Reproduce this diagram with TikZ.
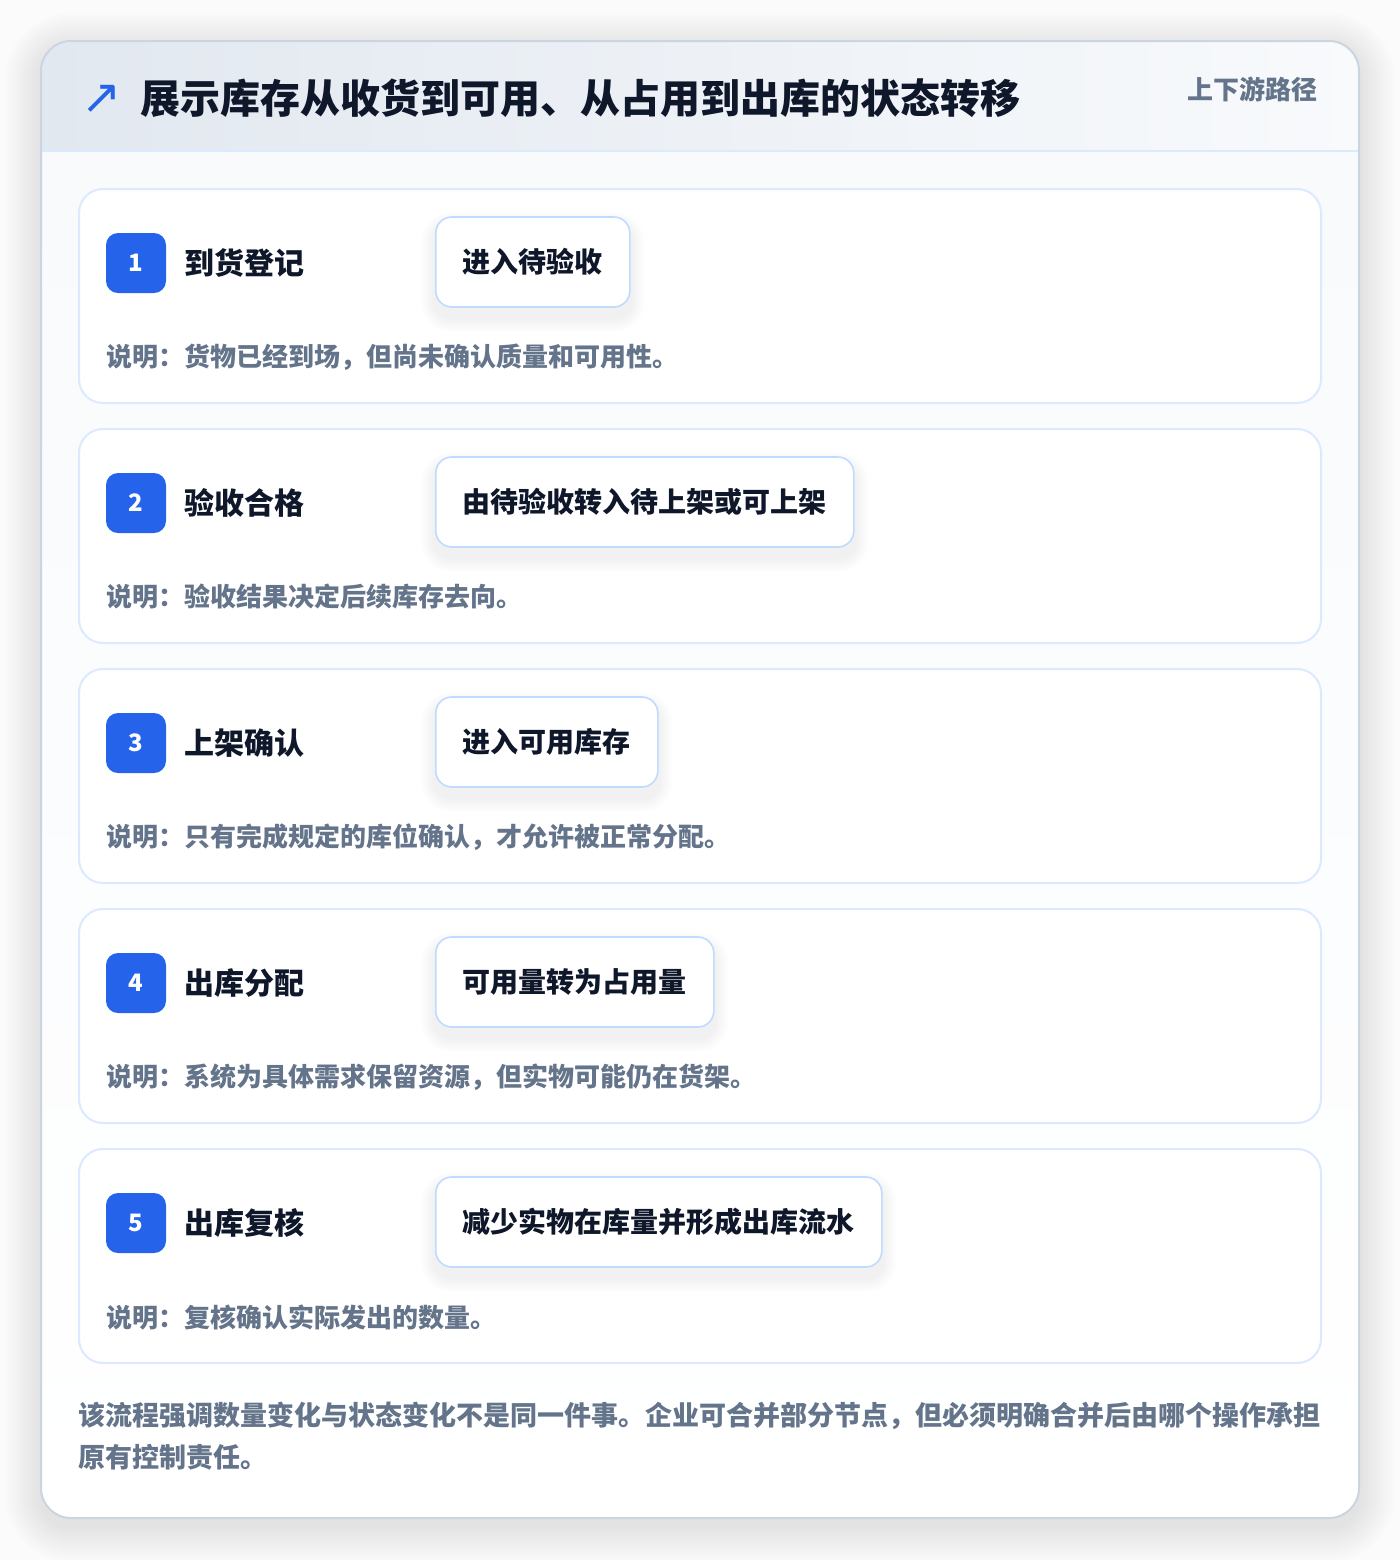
\documentclass[tikz,border=0pt]{standalone}
\usepackage{fontspec}
\setmainfont{Noto Sans CJK SC}
\newfontfamily\symfont{DejaVu Sans}
\usetikzlibrary{positioning}

\definecolor{ink}{HTML}{0F172A}
\definecolor{slate}{HTML}{64748B}
\definecolor{brand}{HTML}{2563EB}
\definecolor{edge}{HTML}{DBEAFE}
\definecolor{boxedge}{HTML}{BFDBFE}
\definecolor{cardedge}{HTML}{CBD5E1}
\definecolor{headA}{HTML}{E2E8F0}
\definecolor{headB}{HTML}{F8FAFC}
\definecolor{pagebg}{HTML}{FBFBFC}

\pgfdeclarelayer{back}
\pgfdeclarelayer{shade}
\pgfsetlayers{back,shade,main}

\tikzset{
  stepcard/.style={draw=edge, line width=1pt, fill=white, rounded corners=12pt,
    minimum width=621pt, minimum height=107pt, inner sep=0},
  badge/.style={fill=brand, rounded corners=6pt, minimum size=30pt, inner sep=0,
    text=white, font=\fontsize{12}{12}\selectfont\bfseries},
  steptitle/.style={anchor=west, inner sep=0, text=ink,
    font=\fontsize{15}{15}\selectfont\bfseries},
  statebox/.style={anchor=west, draw=boxedge, line width=0.8pt, fill=white,
    rounded corners=8pt, minimum height=45pt, inner xsep=13.5pt, text=ink,
    font=\fontsize{14}{14}\selectfont\bfseries},
  note/.style={anchor=west, inner sep=0, text=slate,
    font=\fontsize{13}{13}\selectfont\bfseries},
  softshade/.style={fill=black, opacity=0.008}
}

\begin{document}
\begin{tikzpicture}[x=0.5pt, y=-0.5pt]

\useasboundingbox (0,0) rectangle (1400,1560);

% page and outer card
\begin{pgfonlayer}{back}
\fill[pagebg] (0,0) rectangle (1400,1560);
\foreach \k in {1,...,12} {
  \pgfmathsetmacro\r{15+1.5*\k}
  \fill[black, opacity=0.008, rounded corners=\r pt]
    (41-3*\k,49-3*\k) rectangle (1359+3*\k,1526+3*\k);
}
\fill[white, rounded corners=15pt] (41,41) rectangle (1359,1518);
\begin{scope}
\clip[rounded corners=15pt] (41,41) rectangle (1359,1518);
\shade[left color=headA, right color=headB] (41,41) rectangle (1359,151);
\shade[top color=headB, bottom color=white] (41,151) rectangle (1359,1518);
\end{scope}
\draw[edge, line width=1pt] (41,151) -- (1359,151);
\draw[cardedge, line width=1pt, rounded corners=15pt] (41,41) rectangle (1359,1518);
\end{pgfonlayer}

% header
\node[text=brand, inner sep=0, font=\symfont\fontsize{24}{24}\selectfont] (arrow) at (102,99) {↗};
\node[anchor=west, inner sep=0, text=ink, font=\fontsize{20}{20}\selectfont\bfseries]
  (heading) at (140,98) {展示库存从收货到可用、从占用到出库的状态转移};
\node[anchor=east, inner sep=0, text=slate, font=\fontsize{13}{13}\selectfont\bfseries]
  (tag) at (1318,89) {上下游路径};

% steps
\foreach \n/\title/\state/\note in {
  1/到货登记/进入待验收/说明：货物已经到场，但尚未确认质量和可用性。,
  2/验收合格/由待验收转入待上架或可上架/说明：验收结果决定后续库存去向。,
  3/上架确认/进入可用库存/说明：只有完成规定的库位确认，才允许被正常分配。,
  4/出库分配/可用量转为占用量/说明：系统为具体需求保留资源，但实物可能仍在货架。,
  5/出库复核/减少实物在库量并形成出库流水/说明：复核确认实际发出的数量。}
{
  \pgfmathsetmacro\top{189+240*(\n-1)}
  \begin{pgfonlayer}{back}
  \node[stepcard] (card\n) at (700,\top+107) {};
  \end{pgfonlayer}
  \node[badge] (badge\n) at (136,\top+74) {\n};
  \node[steptitle] (title\n) at (184,\top+74) {\title};
  \node[statebox] (state\n) at (435,\top+73) {\state};
  \node[note] (note\n) at (106,\top+168) {\note};
  % soft shadow under the state box
  \begin{pgfonlayer}{shade}
  \foreach \k in {1,...,7} {
    \pgfmathsetmacro\r{8+\k}
    \fill[softshade, rounded corners=\r pt]
      ([shift={(-2*\k,-2*\k+10)}]state\n.north west)
      rectangle ([shift={(2*\k,2*\k+10)}]state\n.south east);
  }
  \end{pgfonlayer}
}

% footer
\node[anchor=north west, inner sep=0, align=left, text=slate,
  font=\fontsize{13.5}{21}\selectfont\bfseries] (summary) at (78,1402)
  {该流程强调数量变化与状态变化不是同一件事。企业可合并部分节点，但必须明确合并后由哪个操作承担\\原有控制责任。};

\end{tikzpicture}
\end{document}
